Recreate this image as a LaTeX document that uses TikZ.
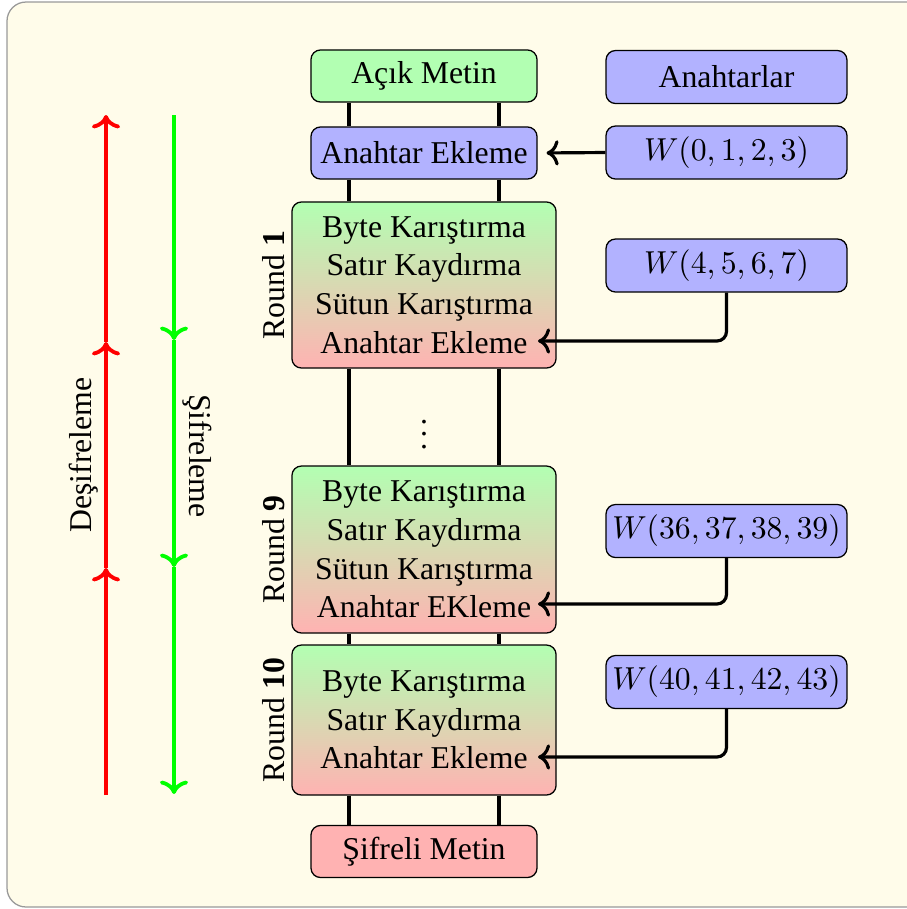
\documentclass[tikz,border=0pt]{standalone}
\usepackage{fontspec}
\setmainfont{Liberation Serif}
\usetikzlibrary{arrows.meta,calc}
\definecolor{paper}{RGB}{255,252,234}
\begin{document}
\begin{tikzpicture}[x=0.315pt,y=-0.315pt,
  every node/.style={font=\fontsize{10}{12.2}\selectfont},
  plainbox/.style={draw, rounded corners=3pt, minimum width=71.2pt, minimum height=16.4pt, inner sep=0pt},
  keybox/.style={draw, fill=blue!30, rounded corners=3pt, minimum width=75.9pt, minimum height=16.7pt, inner sep=0pt},
  roundbox/.style={draw, rounded corners=3pt, top color=green!30, bottom color=red!30, minimum width=83.2pt, align=center, inner sep=0pt},
  rail/.style={line width=1pt},
  feed/.style={line width=1pt, ->, rounded corners=3pt},
  dirline/.style={line width=1.2pt, ->},
  roundlabel/.style={rotate=90, anchor=south, inner sep=2pt}
]
\useasboundingbox (0,0) rectangle (906,909);
% paper background
\draw[draw=gray!80, fill=paper, rounded corners=6pt] (7,2) rectangle (940,907);

% main column
\node[plainbox, fill=green!30] (am) at (424,76) {Açık Metin};
\node[plainbox, fill=blue!30] (ae) at (424,153) {Anahtar Ekleme};
\node[roundbox, minimum height=52.3pt] (r1) at (424,285)
  {Byte Karıştırma\\Satır Kaydırma\\Sütun Karıştırma\\Anahtar Ekleme};
\node (dots) at (424,425) {$\vdots$};
\node[roundbox, minimum height=52.6pt] (r9) at (424,549.5)
  {Byte Karıştırma\\Satır Kaydırma\\Sütun Karıştırma\\Anahtar EKleme};
\node[roundbox, minimum height=47.25pt] (r10) at (424,720)
  {Byte Karıştırma\\Satır Kaydırma\\Anahtar Ekleme};
\node[plainbox, fill=red!30] (sm) at (424,851.5) {Şifreli Metin};

% round labels
\node[roundlabel] (lab1) at (r1.west) {Round \textbf{1}};
\node[roundlabel] (lab9) at (r9.west) {Round \textbf{9}};
\node[roundlabel] (lab10) at (r10.west) {Round \textbf{10}};

% key schedule column
\node[keybox] (keys) at (726.5,77) {Anahtarlar};
\node[keybox] (w0) at (726.5,152.5) {$W(0,1,2,3)$};
\node[keybox] (w1) at (726.5,265.5) {$W(4,5,6,7)$};
\node[keybox] (w9) at (726.5,531) {$W(36,37,38,39)$};
\node[keybox] (w10) at (726.5,682) {$W(40,41,42,43)$};

% data rails between the stages
\coordinate (xl) at (349,0);
\coordinate (xr) at (499,0);
\foreach \a/\b in {am/ae, ae/r1, r1/r9, r9/r10, r10/sm} {
  \draw[rail] (\a.south -| xl) -- (\b.north -| xl);
  \draw[rail] (\a.south -| xr) -- (\b.north -| xr);
}

% round keys fed into the stages
\draw[feed, shorten >=2.8pt] (w0.west) -- (ae.east);
\coordinate (k1) at (538,341);
\coordinate (k9) at (538,604);
\coordinate (k10) at (538,757);
\draw[feed] (w1.south) |- (k1);
\draw[feed] (w9.south) |- (k9);
\draw[feed] (w10.south) |- (k10);

% direction of decryption / encryption
\coordinate (d0) at (106,795);
\coordinate (d1) at (106,568);
\coordinate (d2) at (106,342);
\coordinate (d3) at (106,115);
\coordinate (e0) at (174,115);
\coordinate (e1) at (174,340);
\coordinate (e2) at (174,567);
\coordinate (e3) at (174,794);
\draw[dirline, red] (d0) -- (d1);
\draw[dirline, red] (d1) -- (d2);
\draw[dirline, red] (d2) -- (d3);
\draw[dirline, green] (e0) -- (e1);
\draw[dirline, green] (e1) -- (e2);
\draw[dirline, green] (e2) -- (e3);
\node[rotate=90] (dec) at (84,455) {Deşifreleme};
\node[rotate=-90] (enc) at (197,456) {Şifreleme};
\end{tikzpicture}
\end{document}
